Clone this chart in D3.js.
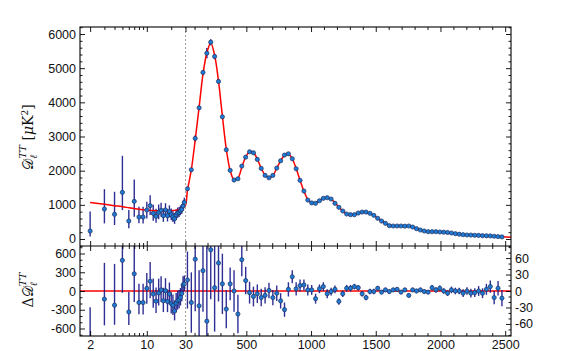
<!DOCTYPE html>
<html>
<head>
<meta charset="utf-8">
<script src="https://cdn.jsdelivr.net/npm/d3@7"></script>
<style>
body { margin: 0; background: #fff; }
svg text { font-family: "Liberation Sans", Arial, sans-serif; fill: #111; }
</style>
</head>
<body>
<script>
// ---- low multipoles (log part of the x axis) ----
const lowEll = [2,3,4,5,6,7,8,9,10,11,12,13,14,15,16,17,18,19,20,21,22,23,24,25,26,27,28,29];
const lowDl = [234,877,722,1365,526,1102,643,643,848,974,751,663,780,838,682,848,682,800,711,653,594,702,760,780,828,867,965,1073];
const lowUp = [570,580,660,1070,320,640,300,300,245,310,250,220,230,220,210,200,190,185,180,175,170,165,160,155,150,145,140,135];
const lowDown = [160,420,313,520,210,450,185,190,245,270,220,190,200,190,180,175,170,165,160,155,150,145,140,135,130,125,120,115];
const lowRes = [-831,-130,-227,491,-335,275,-185,-185,42,156,-49,-162,-32,16,-157,5,-168,-49,-201,-230,-320,-195,-157,-140,-103,-40,97,113];

// ---- binned high multipoles (linear part) ----
const binEll = [45,75,105,135,165,195,225,255,285,315,345,375,405,435,465,495,525,555,585,615,
  645,675,705,735,765,795,825,855,885,915,945,975,1005,1035,1065,1095,1125,1155,1185,1215,
  1245,1275,1305,1335,1365,1395,1425,1455,1485,1515,1545,1575,1605,1635,1665,1695,1725,1755,1785,1815,
  1845,1875,1905,1935,1965,1995,2025,2055,2085,2115,2145,2175,2205,2235,2265,2295,2325,2355,2385,2415,2445,2475];
const binDl = [1470,2026,2944,3840,4874,5439,5760,5342,4611,3576,2611,2009,1725,1763,2134,2395,2553,2523,2330,2067,
  1862,1792,1862,2076,2289,2456,2494,2348,2056,1716,1404,1140,1055,1044,1120,1190,1208,1170,1044,927,
  819,731,711,711,760,789,789,751,693,605,526,459,389,380,380,380,375,380,351,301,
  263,234,213,213,213,205,200,190,175,155,140,126,117,115,108,105,96,94,90,80,70,60];
const binRes = [20,-21,58,-27,37,-55,75,6,51,13,-33,13,0,-42,57,19,-3,-10,-5,-12,
  -8,1,-12,-4,-18,-34,3,26,4,10,11,2,2,-14,4,8,-5,-1,3,-19,
  -5,5,5,8,6,-5,-12,-1,-1,5,-2,2,-1,2,3,-2,2,-8,2,0,
  2,-1,-2,6,2,5,0,-4,2,0,0,-4,0,-4,-3,0,-4,3,8,-12,5,-13];
const binErr = [52,55,95,65,75,150,90,80,70,55,35,30,38,35,30,25,20,18,17,16,
  15,14,14,14,14,13,13,12,12,11,10,10,9,9,8,8,8,7,7,6,
  6,6,6,5,5,5,5,5,5,4,4,4,4,4,4,4,4,4,4,4,
  4,4,4,5,5,5,5,5,6,6,6,7,7,8,8,9,9,10,11,12,13,15];

// ---- best-fit model curve ----
const modelEll = [2,3,4,5,6,7,8,10,12,15,20,23,26,28,30,
  45,75,105,135,165,195,225,255,285,315,345,375,405,435,465,495,525,555,585,615,
  645,675,705,735,765,795,825,855,885,915,945,975,1005,1035,1065,1095,1125,1155,1185,1215,
  1245,1275,1305,1335,1365,1395,1425,1455,1485,1515,1545,1575,1605,1635,1665,1695,1725,1755,1785,1815,
  1845,1875,1905,1935,1965,1995,2025,2055,2085,2115,2145,2175,2205,2235,2265,2295,2325,2355,2385,2415,2445,2475,2545];
const modelDl = [1065,1015,975,945,915,890,870,845,832,826,830,845,880,920,990,
  1420,2030,2900,3850,4820,5450,5740,5380,4620,3600,2640,2010,1740,1780,2100,2400,2550,2530,2340,2070,
  1870,1790,1860,2070,2290,2450,2490,2350,2060,1720,1400,1160,1060,1060,1120,1185,1205,1170,1060,930,
  820,735,705,715,755,785,785,750,690,605,525,460,405,385,380,380,378,370,345,305,
  265,235,218,212,210,205,198,187,172,156,141,128,119,112,107,102,97,92,86,79,71,64,52];

// tick labels
const topTicks = [0,1000,2000,3000,4000,5000,6000];
const resLeftTicks = [-600,-300,0,300,600];
const resRightTicks = [-60,-30,0,30,60];
const logMajor = [2,10,30];
const logMinor = [3,4,5,6,7,8,9,20];
const linMajor = [500,1000,1500,2000,2500];

const W = 568, H = 351;
const pL = 80, pR = 511, pT = 27, pM = 246, pB = 336, xBreak = 185.5;

const xLog = d3.scaleLog().domain([1.5, 30]).range([pL, xBreak]);
const xLin = d3.scaleLinear().domain([30, 2545]).range([xBreak, pR]);
const x = l => l < 30 ? xLog(l) : xLin(l);
const yTop = d3.scaleLinear().domain([-205, 6205]).range([pM, pT]);
const yResL = d3.scaleLinear().domain([-720, 720]).range([pB, pM]);
const yResR = d3.scaleLinear().domain([-82, 82]).range([pB, pM]);

const svg = d3.select("body").append("svg")
    .attr("width", W).attr("height", H);

const defs = svg.append("defs");
defs.append("clipPath").attr("id", "clipTop").append("rect")
    .attr("x", pL).attr("y", pT).attr("width", pR - pL).attr("height", pM - pT);
defs.append("clipPath").attr("id", "clipBot").append("rect")
    .attr("x", pL).attr("y", pM).attr("width", pR - pL).attr("height", pB - pM);

const gTop = svg.append("g").attr("clip-path", "url(#clipTop)");
const gBot = svg.append("g").attr("clip-path", "url(#clipBot)");

// dashed line at l = 30
svg.append("line")
    .attr("x1", xBreak).attr("x2", xBreak).attr("y1", pT).attr("y2", pB)
    .attr("stroke", "#888").attr("stroke-width", 0.8).attr("stroke-dasharray", "2,2");

const barColor = "#17178a";
const low = lowEll.map((l, i) => ({l: l, d: lowDl[i], up: lowUp[i], dn: lowDown[i], r: lowRes[i]}));
const bins = binEll.map((l, i) => ({l: l, d: binDl[i], r: binRes[i], e: binErr[i]}));

// error bars, top panel
gTop.selectAll(".elow").data(low).enter().append("line")
    .attr("x1", d => x(d.l)).attr("x2", d => x(d.l))
    .attr("y1", d => yTop(d.d + d.up)).attr("y2", d => yTop(d.d - d.dn))
    .attr("stroke", barColor).attr("stroke-width", 1.4).attr("stroke-opacity", 0.9);
gTop.selectAll(".ehigh").data(bins).enter().append("line")
    .attr("x1", d => x(d.l)).attr("x2", d => x(d.l))
    .attr("y1", d => yTop(d.d + d.e)).attr("y2", d => yTop(d.d - d.e))
    .attr("stroke", barColor).attr("stroke-width", 1.4);

// model
const line = d3.line().x(d => x(d[0])).y(d => yTop(d[1])).curve(d3.curveCatmullRom.alpha(0.5));
gTop.append("path")
    .datum(modelEll.map((l, i) => [l, modelDl[i]]))
    .attr("d", line)
    .attr("fill", "none").attr("stroke", "#f00").attr("stroke-width", 1.5);

// points
function dots(g, data, yf) {
  g.selectAll(null).data(data).enter().append("circle")
      .attr("cx", d => x(d.l)).attr("cy", yf).attr("r", 2.1)
      .attr("fill", "#1f7bd6").attr("stroke", "#1b2e5c").attr("stroke-width", 0.7);
}
dots(gTop, low, d => yTop(d.d));
dots(gTop, bins, d => yTop(d.d));

// residual panel
gBot.append("line")
    .attr("x1", pL).attr("x2", pR).attr("y1", yResL(0)).attr("y2", yResL(0))
    .attr("stroke", "#f00").attr("stroke-width", 1.5);
gBot.selectAll(".rlow").data(low).enter().append("line")
    .attr("x1", d => x(d.l)).attr("x2", d => x(d.l))
    .attr("y1", d => yResL(d.r + d.up)).attr("y2", d => yResL(d.r - d.dn))
    .attr("stroke", barColor).attr("stroke-width", 1.4).attr("stroke-opacity", 0.9);
gBot.selectAll(".rhigh").data(bins).enter().append("line")
    .attr("x1", d => x(d.l)).attr("x2", d => x(d.l))
    .attr("y1", d => yResR(d.r + d.e)).attr("y2", d => yResR(d.r - d.e))
    .attr("stroke", barColor).attr("stroke-width", 1.4).attr("stroke-opacity", 0.9);
dots(gBot, low, d => yResL(d.r));
dots(gBot, bins, d => yResR(d.r));

// ---- axes ----
const fmt = d => String(d);
function style(g) {
  g.select(".domain").remove();
  g.selectAll(".tick line").attr("stroke", "#000").attr("stroke-width", 0.9);
  g.selectAll("text").style("font-size", "12.5px").attr("fill", "#111");
}
function yAxis(scale, maker, xpos, major, minor, labels) {
  svg.append("g").attr("transform", "translate(" + xpos + ",0)")
      .call(maker(scale).tickValues(minor).tickSize(-2.5).tickFormat(""))
      .call(style);
  svg.append("g").attr("transform", "translate(" + xpos + ",0)")
      .call(maker(scale).tickValues(major).tickSize(-5).tickPadding(4).tickFormat(labels ? fmt : ""))
      .call(style);
}
const topMinor = d3.range(-200, 6201, 200).filter(v => v % 1000 !== 0);
yAxis(yTop, d3.axisLeft, pL, topTicks, topMinor, true);
yAxis(yTop, d3.axisRight, pR, topTicks, topMinor, false);
yAxis(yResL, d3.axisLeft, pL, resLeftTicks, d3.range(-700, 701, 100).filter(v => v % 300 !== 0), true);
yAxis(yResR, d3.axisRight, pR, resRightTicks, d3.range(-80, 81, 10).filter(v => v % 30 !== 0), true);

const linMinor = d3.range(100, 2550, 100).filter(v => v % 500 !== 0);
function xAxis(maker, ypos, labels) {
  [[xLog, logMajor, logMinor], [xLin, linMajor, linMinor]].forEach(([sc, major, minor]) => {
    svg.append("g").attr("transform", "translate(0," + ypos + ")")
        .call(maker(sc).tickValues(minor).tickSize(-3).tickFormat(""))
        .call(style);
    svg.append("g").attr("transform", "translate(0," + ypos + ")")
        .call(maker(sc).tickValues(major).tickSize(-5).tickPadding(4).tickFormat(labels ? fmt : ""))
        .call(style);
  });
}
xAxis(d3.axisTop, pT, false);
xAxis(d3.axisBottom, pM, false);
xAxis(d3.axisTop, pM, false);
xAxis(d3.axisBottom, pB, true);

// frame
svg.append("rect").attr("x", pL).attr("y", pT).attr("width", pR - pL).attr("height", pB - pT)
    .attr("fill", "none").attr("stroke", "#000").attr("stroke-width", 1.1);
svg.append("line").attr("x1", pL).attr("x2", pR).attr("y1", pM).attr("y2", pM)
    .attr("stroke", "#000").attr("stroke-width", 1.1);

// axis titles
const serif = "'DejaVu Serif','Liberation Serif',serif";
const lab1 = svg.append("text").attr("transform", "translate(33,137) rotate(-90)")
    .attr("text-anchor", "middle").style("font-family", serif).style("font-size", "14px");
lab1.append("tspan").text("𝒟");
lab1.append("tspan").attr("dy", 4).style("font-size", "10px").style("font-style", "italic").text("ℓ");
lab1.append("tspan").attr("dx", -4).attr("dy", -11).style("font-size", "10px").style("font-style", "italic").text("TT");
lab1.append("tspan").attr("dy", 7).text(" [");
lab1.append("tspan").style("font-style", "italic").text("μ");
lab1.append("tspan").text("K");
lab1.append("tspan").attr("dy", -5).style("font-size", "9px").text("2");
lab1.append("tspan").attr("dy", 5).text("]");

const lab2 = svg.append("text").attr("transform", "translate(33,290) rotate(-90)")
    .attr("text-anchor", "middle").style("font-family", serif).style("font-size", "14px");
lab2.append("tspan").text("Δ𝒟");
lab2.append("tspan").attr("dy", 4).style("font-size", "10px").style("font-style", "italic").text("ℓ");
lab2.append("tspan").attr("dx", -4).attr("dy", -11).style("font-size", "10px").style("font-style", "italic").text("TT");
</script>
</body>
</html>
